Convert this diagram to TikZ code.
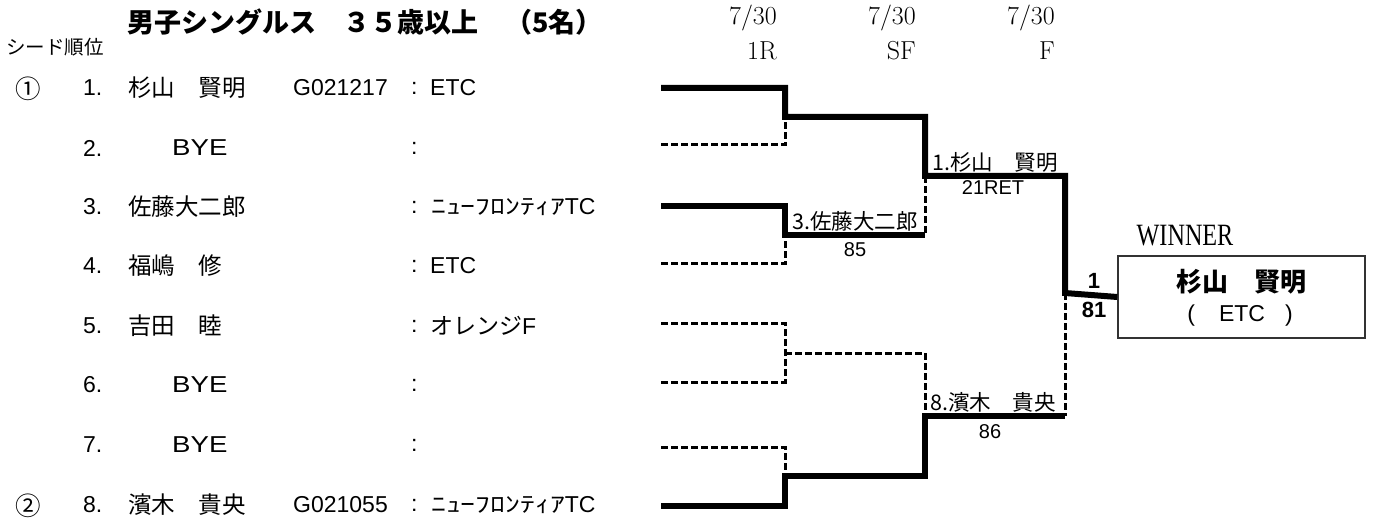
\documentclass[tikz,border=0pt]{standalone}
\usepackage{graphicx}
\usepackage{fontspec}
\newfontfamily\jp{Noto Sans CJK JP}
\newfontfamily\ar{Liberation Sans}
\newfontfamily\tms{Liberation Serif}
\newcommand\fsz[1]{\fontsize{#1}{#1}\selectfont}
\tikzset{
  winline/.style={line width=6pt, line join=miter},
  loseline/.style={line width=3pt, dash pattern=on 7pt off 3pt},
  lblw/.style={inner sep=0pt, anchor=west},
  ctrt/.style={inner sep=0pt},
  numt/.style={lblw, font=\ar\fsz{23}},
  pname/.style={lblw, font=\jp\fsz{23.5}},
  datet/.style={inner sep=0pt, anchor=east, font=\fsz{26}},
  blabt/.style={lblw, font=\jp\fsz{21.5}},
  scoret/.style={ctrt, font=\ar\fsz{20}},
}
\begin{document}
\begin{tikzpicture}[x=1pt,y=-1pt]
\useasboundingbox (0,0) rectangle (1373,521);
% title and headers
\node[lblw, font=\jp\bfseries\fsz{27}] (title) at (127,22) {男子シングルス　３５歳以上　（5名）};
\node[lblw, font=\jp\fsz{19.5}] (seed) at (6,47) {シード順位};
\node[datet] (d1) at (777,18) {7/30};
\node[datet] (d2) at (916,18) {7/30};
\node[datet] (d3) at (1055,18) {7/30};
\node[datet] (r1) at (777,51) {1R};
\node[datet] (r2) at (916,51) {SF};
\node[datet] (r3) at (1055,51) {F};
% seeds
\node[lblw, font=\jp\fsz{25.5}] (s1) at (15,89) {①};
\node[lblw, font=\jp\fsz{25.5}] (s2) at (15,506) {②};
% rows
\node[numt] (n1) at (83,88) {1.};
\node[numt] (n2) at (83,148) {2.};
\node[numt] (n3) at (83,207) {3.};
\node[numt] (n4) at (83,266) {4.};
\node[numt] (n5) at (83,326) {5.};
\node[numt] (n6) at (83,385) {6.};
\node[numt] (n7) at (83,445) {7.};
\node[numt] (n8) at (83,505) {8.};
\node[pname] (p1) at (128,88) {杉山　賢明};
\node[lblw, font=\ar\fsz{23}] (p2) at (172,148) {\scalebox{1.2}[1]{BYE}};
\node[pname] (p3) at (128,207) {佐藤大二郎};
\node[pname] (p4) at (128,266) {福嶋　修};
\node[pname] (p5) at (128,326) {吉田　睦};
\node[lblw, font=\ar\fsz{23}] (p6) at (172,385) {\scalebox{1.2}[1]{BYE}};
\node[lblw, font=\ar\fsz{23}] (p7) at (172,445) {\scalebox{1.2}[1]{BYE}};
\node[pname] (p8) at (128,505) {濱木　貴央};
\node[numt] (g1) at (293,88) {G021217};
\node[numt] (g8) at (293,505) {G021055};
\foreach \y/\i in {88/1,148/2,207/3,266/4,326/5,385/6,445/7,505/8}
  \node[numt] (c\i) at (411,\y) {:};
\node[numt] (t1) at (430,88) {ETC};
\node[lblw] (t3) at (431,207) {\scalebox{1.35}[1]{\jp\fsz{22}ﾆｭｰﾌﾛﾝﾃｨｱ}\ar\fsz{23}TC};
\node[numt] (t4) at (430,266) {ETC};
\node[lblw] (t5) at (430,326) {\jp\fsz{23}オレンジ\ar F};
\node[lblw] (t8) at (431,505) {\scalebox{1.35}[1]{\jp\fsz{22}ﾆｭｰﾌﾛﾝﾃｨｱ}\ar\fsz{23}TC};
% bracket coordinates
\coordinate (a1) at (661,88);  \coordinate (a2) at (661,145);
\coordinate (a3) at (661,206); \coordinate (a4) at (661,264);
\coordinate (a5) at (661,323); \coordinate (a6) at (661,382);
\coordinate (a7) at (661,447); \coordinate (a8) at (661,506);
\coordinate (m1) at (785,117); \coordinate (m2) at (785,235);
\coordinate (m3) at (785,353); \coordinate (m4) at (785,476);
\coordinate (q1) at (925,176); \coordinate (q2) at (925,416);
\coordinate (f1) at (1065,293);
% winner box
\node[draw=black!80, line width=1.4pt, minimum width=247pt, minimum height=82pt, inner sep=0pt] (box) at (1241.5,297) {};
\node[ctrt, font=\jp\bfseries\fsz{26}] (wn) at (1241,282) {杉山　賢明};
\node[ctrt, font=\ar\fsz{23}] (wc) at (1240,316) {(\hspace{24pt}ETC\hspace{20pt})};
\node[ctrt, font=\tms\fsz{31}] (wl) at (1185,236) {\scalebox{0.78}[1]{WINNER}};
% thick winner paths
\draw[winline] (a1) -| (m1) -| (q1) -| (f1) -- (box.west);
\draw[winline] (a3) -| (m2) -- (m2 -| q1);
\draw[winline] (a8) -| (m4) -- (m4 -| q2) -- (q2) -- (q2 -| f1);
% dashed loser paths
\draw[loseline] (a2) -| (m1);
\draw[loseline] (a4) -| (m2);
\draw[loseline] (a5) -| (m3) |- (a6);
\draw[loseline] (m3) -| (q2);
\draw[loseline] (a7) -| (m4);
\draw[loseline] (q1) -- (m2 -| q1);
\draw[loseline] (f1) -- (q2 -| f1);
% labels
\node[blabt] (l1) at (932,162) {1.杉山　賢明};
\node[scoret] (l1s) at (993,188) {21RET};
\node[blabt] (l3) at (792,221) {3.佐藤大二郎};
\node[scoret] (l3s) at (855,250) {85};
\node[blabt] (l8) at (930,402) {8.濱木　貴央};
\node[scoret] (l8s) at (990,432) {86};
\node[ctrt, font=\ar\bfseries\fsz{22}] (fw) at (1094,281) {1};
\node[ctrt, font=\ar\bfseries\fsz{22}] (fs) at (1094,310) {81};
\end{tikzpicture}
\end{document}
